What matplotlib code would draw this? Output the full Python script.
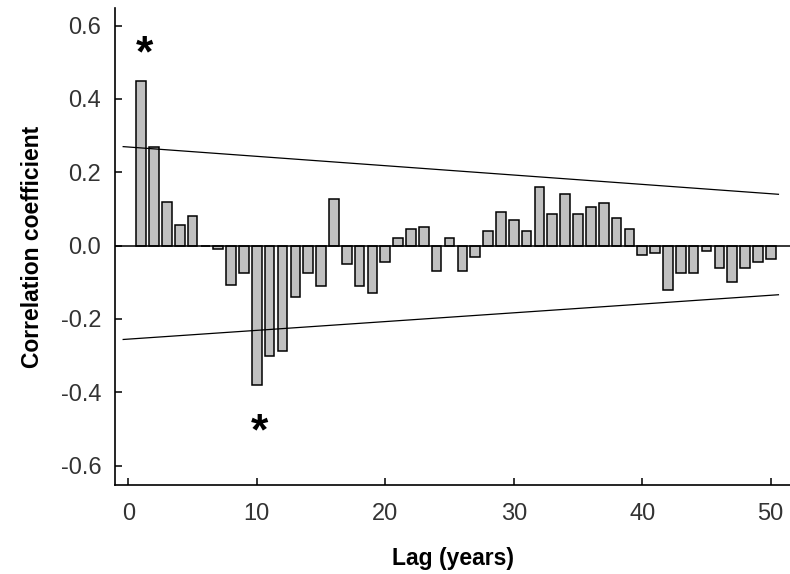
import matplotlib
matplotlib.use("Agg")
import matplotlib.pyplot as plt
import numpy as np

# autocorrelation coefficients for lags 1..50
lags = np.arange(1, 51)
corr = [0.45, 0.27, 0.12, 0.055, 0.08, 0.0, -0.01, -0.107, -0.075, -0.38,
        -0.30, -0.287, -0.14, -0.075, -0.11, 0.126, -0.05, -0.11, -0.13, -0.045,
        0.02, 0.046, 0.051, -0.07, 0.02, -0.07, -0.031, 0.041, 0.091, 0.071,
        0.041, 0.16, 0.085, 0.14, 0.085, 0.106, 0.115, 0.076, 0.046, -0.026,
        -0.02, -0.12, -0.075, -0.075, -0.016, -0.06, -0.10, -0.06, -0.045, -0.036]

# confidence limits (straight lines between end points)
ci_lags = [-0.4, 50.6]
ci_upper = [0.27, 0.14]
ci_lower = [-0.256, -0.134]

# significance markers
star_lags = [1.25, 10.2]
star_vals = [0.52, -0.51]

plt.rcParams['font.family'] = ['Liberation Sans', 'DejaVu Sans']

fig = plt.figure(figsize=(7.9, 5.74), dpi=100)
ax = fig.add_axes([0.1456, 0.155, 0.8544, 0.831])

ax.bar(lags, corr, width=0.75, color='#c0c0c0', edgecolor='black', linewidth=1.1, zorder=2)
ax.axhline(0, color='black', linewidth=1.1, zorder=3)
ax.plot(ci_lags, ci_upper, color='black', linewidth=0.9, zorder=4)
ax.plot(ci_lags, ci_lower, color='black', linewidth=0.9, zorder=4)

for xs, ys in zip(star_lags, star_vals):
    ax.text(xs, ys, '*', ha='center', va='center', fontsize=32, fontweight='bold')

ax.set_xlim(-1.035, 51.5)
ax.set_ylim(-0.653, 0.648)
ax.set_xticks([0, 10, 20, 30, 40, 50])
ax.set_yticks([-0.6, -0.4, -0.2, 0.0, 0.2, 0.4, 0.6])
ax.set_yticklabels(['%.1f' % v for v in [-0.6, -0.4, -0.2, 0.0, 0.2, 0.4, 0.6]])

for s in ['top', 'right']:
    ax.spines[s].set_visible(False)
for s in ['left', 'bottom']:
    ax.spines[s].set_linewidth(1.2)

ax.tick_params(direction='in', length=5, width=1.1, labelsize=17, labelcolor='#333333')
ax.tick_params(axis='y', pad=10)
ax.tick_params(axis='x', pad=13)
ax.set_xlabel('Lag (years)', fontsize=16.5, fontweight='bold', labelpad=16)
ax.set_ylabel('Correlation coefficient', fontsize=16.5, fontweight='bold', labelpad=12)

fig.savefig('out.png', dpi=100)
